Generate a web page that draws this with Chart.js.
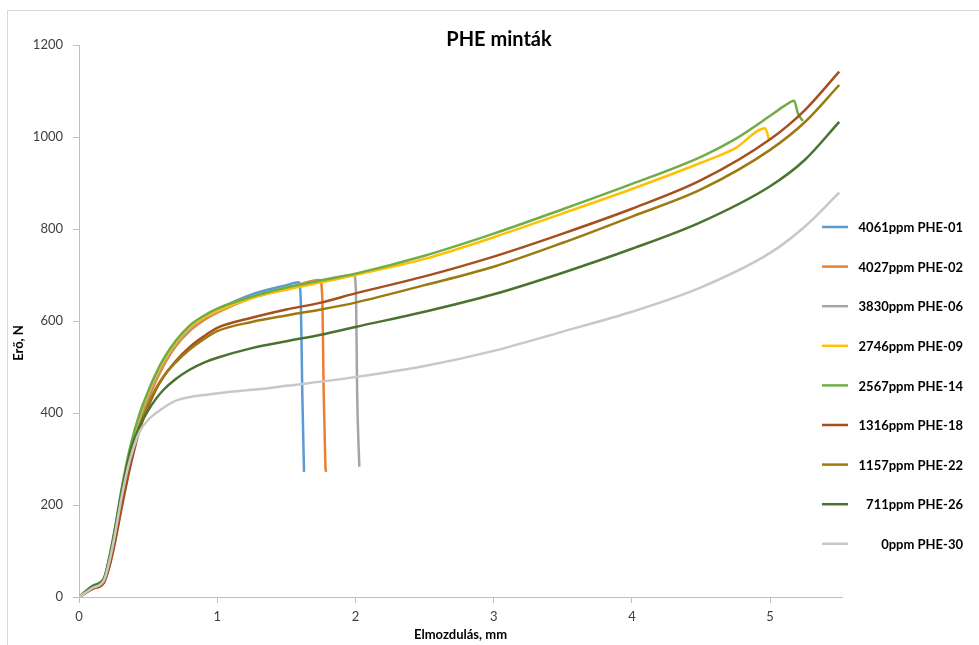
<!DOCTYPE html>
<html>
<head>
<meta charset="utf-8">
<script src="https://cdn.jsdelivr.net/npm/chart.js@4.4.1/dist/chart.umd.min.js"></script>
<style>
html, body { margin: 0; padding: 0; background: #fff; overflow: hidden; }
#frame { position: absolute; left: 7px; top: 10px; width: 1000px; height: 700px; border: 1px solid #d9d9d9; }
#wrap { position: absolute; left: 0; top: 0; width: 979px; height: 645px; }
</style>
</head>
<body>
<div id="frame"></div>
<div id="wrap"><canvas id="chart0"></canvas></div>
<script>
const chartTitle = 'PHE minták';
const xTitle = 'Elmozdulás, mm';
const yTitle = 'Erő, N';

const labels = ['4061ppm PHE-01', '4027ppm PHE-02', '3830ppm PHE-06', '2746ppm PHE-09', '2567ppm PHE-14',
    '1316ppm PHE-18', '1157ppm PHE-22', '711ppm PHE-26', '0ppm PHE-30'];
const colors = ['#5b9bd5', '#ed7d31', '#a5a5a5', '#ffc000', '#70ad47', '#a5501e', '#9c7a10', '#4a7330', '#c8c8c8'];

// displacement (mm) / force (N) per sample
const x01 = [0, 0.1, 0.18, 0.22, 0.26, 0.31, 0.37, 0.44, 0.5, 0.55, 0.61, 0.7, 0.8, 0.9, 1.0, 1.25, 1.5, 1.59, 1.605, 1.615, 1.628];
const y01 = [0, 20, 35, 76, 133, 218, 305, 392, 440, 476, 511, 552, 585, 608, 625, 658, 678, 684, 640, 450, 272];

const x02 = [0, 0.1, 0.18, 0.22, 0.26, 0.31, 0.37, 0.44, 0.5, 0.55, 0.61, 0.7, 0.8, 0.9, 1.0, 1.25, 1.5, 1.744, 1.76, 1.77, 1.782, 1.787];
const y02 = [0, 18, 32, 68, 122, 200, 290, 378, 428, 465, 502, 545, 578, 601, 618, 650, 670, 689, 650, 450, 290, 272];

const x06 = [0, 0.1, 0.18, 0.22, 0.26, 0.31, 0.37, 0.44, 0.5, 0.55, 0.61, 0.7, 0.8, 0.9, 1.0, 1.25, 1.5, 1.75, 1.99, 2.004, 2.012, 2.028];
const y06 = [0, 20, 36, 78, 136, 222, 308, 388, 436, 472, 508, 549, 582, 605, 620, 652, 672, 688, 700, 660, 450, 283];

const x09 = [0, 0.1, 0.18, 0.22, 0.26, 0.31, 0.37, 0.44, 0.5, 0.55, 0.61, 0.7, 0.8, 0.9, 1.0, 1.25, 1.5, 1.75, 2.0, 2.5, 3.0, 3.5, 4.0, 4.5, 4.75, 4.964, 4.993];
const y09 = [0, 23, 39, 84, 145, 232, 320, 396, 443, 478, 513, 553, 586, 607, 622, 650, 668, 684, 700, 735, 782, 834, 887, 944, 976, 1019, 993];

const x14 = [0, 0.1, 0.18, 0.22, 0.26, 0.31, 0.37, 0.44, 0.5, 0.55, 0.61, 0.7, 0.8, 0.9, 1.0, 1.25, 1.5, 1.75, 2.0, 2.5, 3.0, 3.5, 4.0, 4.5, 4.75, 5.0, 5.1, 5.174, 5.2, 5.236];
const y14 = [0, 25, 41, 88, 150, 238, 326, 400, 447, 482, 517, 557, 590, 611, 627, 653, 673, 688, 703, 742, 790, 843, 898, 957, 996, 1046, 1067, 1079, 1052, 1035];

const x18 = [0, 0.1, 0.18, 0.22, 0.26, 0.31, 0.37, 0.44, 0.5, 0.55, 0.61, 0.7, 0.8, 0.9, 1.0, 1.25, 1.5, 1.75, 2.0, 2.5, 3.0, 3.5, 4.0, 4.5, 5.0, 5.25, 5.5];
const y18 = [0, 18, 31, 66, 118, 196, 282, 365, 413, 447, 478, 513, 543, 566, 585, 607, 625, 640, 660, 697, 740, 790, 844, 906, 995, 1058, 1142];

const x22 = [0, 0.1, 0.18, 0.22, 0.26, 0.31, 0.37, 0.44, 0.5, 0.55, 0.61, 0.7, 0.8, 0.9, 1.0, 1.25, 1.5, 1.75, 2.0, 2.5, 3.0, 3.5, 4.0, 4.5, 5.0, 5.25, 5.5];
const y22 = [0, 21, 38, 82, 142, 226, 308, 372, 418, 450, 479, 510, 538, 560, 578, 598, 612, 625, 640, 678, 718, 770, 827, 886, 972, 1032, 1113];

const x26 = [0, 0.1, 0.18, 0.22, 0.26, 0.31, 0.37, 0.44, 0.5, 0.55, 0.61, 0.7, 0.8, 0.9, 1.0, 1.25, 1.5, 1.75, 2.0, 2.5, 3.0, 3.5, 4.0, 4.5, 5.0, 5.25, 5.5];
const y26 = [0, 24, 40, 85, 146, 232, 316, 372, 405, 428, 450, 474, 494, 509, 520, 541, 556, 570, 587, 620, 658, 705, 757, 815, 893, 950, 1033];

const x30 = [0, 0.1, 0.18, 0.22, 0.26, 0.31, 0.37, 0.44, 0.5, 0.59, 0.71, 0.95, 1.31, 1.5, 2.0, 2.5, 3.0, 3.5, 4.0, 4.5, 5.0, 5.25, 5.5];
const y30 = [0, 20, 36, 78, 136, 220, 300, 360, 385, 407, 428, 441, 452, 459, 478, 502, 535, 577, 620, 673, 748, 805, 879];

const xs = [x01, x02, x06, x09, x14, x18, x22, x26, x30];
const ys = [y01, y02, y06, y09, y14, y18, y22, y26, y30];

const font = 'Lato';
const axisColor = '#bfbfbf';
const tickColor = '#404040';

// title, rotated y title and the right-hand legend
const decor = {
    id: 'decor',
    afterDraw(chart) {
        const c = chart.ctx;
        c.save();
        c.fillStyle = '#000';
        c.textAlign = 'center';
        c.textBaseline = 'middle';
        c.font = `bold 20px ${font}`;
        c.fillText(chartTitle, 499, 40);

        c.save();
        c.translate(19, 343);
        c.rotate(-Math.PI / 2);
        c.font = `bold 13px ${font}`;
        c.fillText(yTitle, 0, 0);
        c.restore();

        c.font = `bold 13px ${font}`;
        c.textAlign = 'right';
        chart.data.datasets.forEach((ds, i) => {
            const y = 227 + i * 39.6;
            c.strokeStyle = ds.borderColor;
            c.lineWidth = 2.5;
            c.beginPath();
            c.moveTo(822, y);
            c.lineTo(848, y);
            c.stroke();
            c.fillText(ds.label, 963, y + 1);
        });
        c.restore();
    }
};

const canvas0 = document.getElementById('chart0');
const ctx0 = canvas0.getContext('2d');

const datasets = [];
for (let i = 0; i < labels.length; i++)
    datasets.push({
        label: labels[i],
        data: xs[i].map((x, j) => ({ x: x, y: ys[i][j] })),
        borderColor: colors[i],
        backgroundColor: colors[i],
        borderWidth: 2.5,
        pointRadius: 0,
        showLine: true,
        cubicInterpolationMode: 'monotone',
        order: labels.length - i,
    });

const chart0 = new Chart(ctx0, {
    type: 'scatter',
    data: { datasets: datasets },
    plugins: [decor],
    options: {
        responsive: true,
        maintainAspectRatio: false,
        animation: false,
        layout: { padding: { left: 0, right: 137, top: 45, bottom: 0 } },
        plugins: {
            legend: { display: false },
            title: { display: false },
            tooltip: { enabled: false },
        },
        scales: {
            x: {
                type: 'linear',
                min: 0,
                max: 5.52,
                afterFit: (s) => { s.height = 48; },
                ticks: {
                    stepSize: 1,
                    includeBounds: false,
                    padding: 6,
                    color: tickColor,
                    font: { family: font, size: 13 },
                    callback: (v) => String(v),
                },
                grid: { drawOnChartArea: false, tickLength: 6, color: axisColor },
                border: { color: axisColor },
                title: {
                    display: true,
                    text: xTitle,
                    color: '#000',
                    font: { family: font, size: 13, weight: 'bold' },
                    padding: { top: 0, bottom: 2 },
                },
            },
            y: {
                min: 0,
                max: 1200,
                afterFit: (s) => { s.width = 79; },
                ticks: {
                    stepSize: 200,
                    padding: 10,
                    color: tickColor,
                    font: { family: font, size: 13 },
                    callback: (v) => String(v),
                },
                grid: { drawOnChartArea: false, tickLength: 6, color: axisColor },
                border: { color: axisColor },
            },
        },
    },
});
</script>
</body>
</html>
